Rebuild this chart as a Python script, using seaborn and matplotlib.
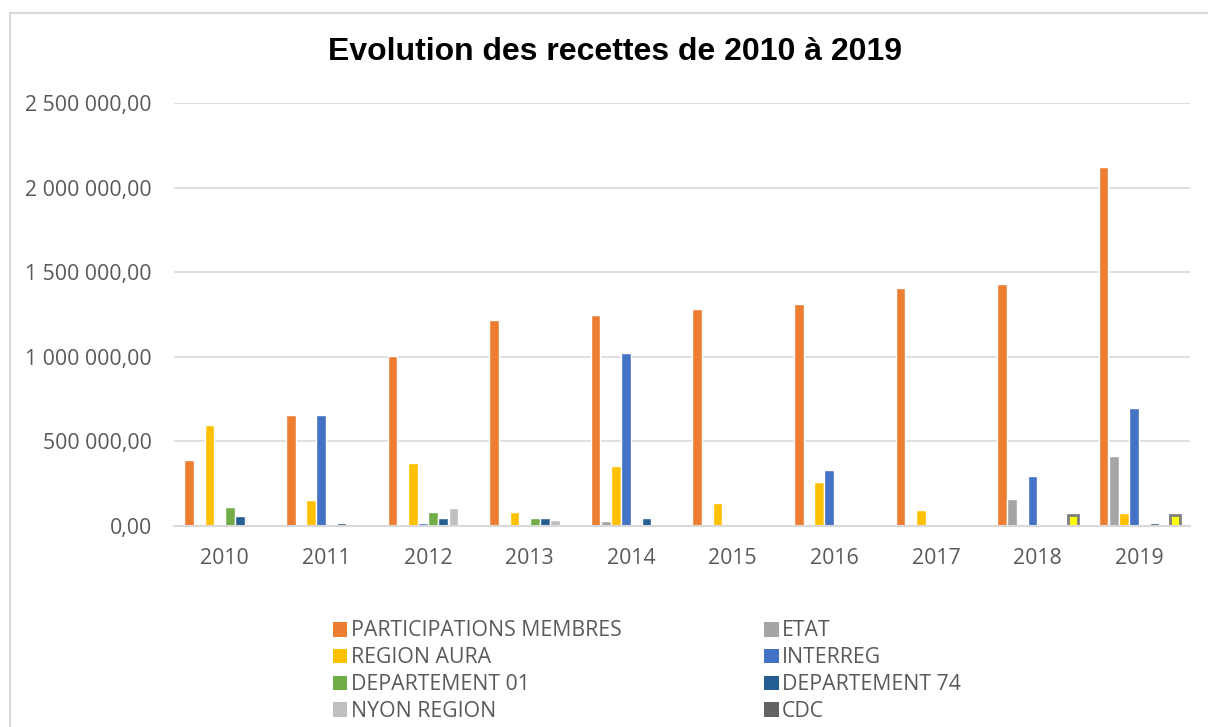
import pandas as pd
import matplotlib.pyplot as plt
import seaborn as sns
from matplotlib.patches import Patch
from matplotlib.lines import Line2D
from matplotlib.ticker import FuncFormatter

years = ["2010", "2011", "2012", "2013", "2014", "2015", "2016", "2017", "2018", "2019"]
series = ["PARTICIPATIONS MEMBRES", "ETAT", "REGION AURA", "INTERREG",
          "DEPARTEMENT 01", "DEPARTEMENT 74", "NYON REGION", "CDC"]

participations = [388000, 656000, 1005000, 1220000, 1248000, 1280000, 1310000, 1405000, 1432000, 2122000]
etat = [0, 0, 12000, 0, 28000, 0, 0, 0, 160000, 412000]
region_aura = [594000, 152000, 375000, 85000, 352000, 138000, 258000, 92000, 12000, 78000]
interreg = [0, 656000, 18000, 0, 1020000, 0, 333000, 0, 298000, 700000]
dep01 = [110000, 0, 85000, 45000, 0, 0, 0, 0, 0, 0]
dep74 = [59000, 20000, 45000, 45000, 45000, 0, 0, 0, 0, 18000]
nyon = [0, 0, 108000, 38000, 0, 0, 0, 0, 0, 0]
cdc = [0, 0, 0, 0, 0, 0, 0, 0, 65000, 65000]

colors = ["#ED7D31", "#A5A5A5", "#FFC000", "#4472C4", "#70AD47", "#255E91", "#BFBFBF", "#636363"]

values = [participations, etat, region_aura, interreg, dep01, dep74, nyon, cdc]
rows = []
for name, vals in zip(series, values):
    for y, v in zip(years, vals):
        rows.append({"annee": y, "serie": name, "montant": v})
df = pd.DataFrame(rows)

sns.set_style("white")
plt.rcParams["font.family"] = ["Open Sans", "DejaVu Sans"]

fig = plt.figure(figsize=(12.08, 7.27), dpi=100)
ax = fig.add_axes([174 / 1208, 1 - 526 / 727, (1190 - 174) / 1208, (526 - 103) / 727])

bar_colors = colors[:-1] + ["#FFFF00"]
sns.barplot(data=df, x="annee", y="montant", hue="serie", hue_order=series,
            palette=bar_colors, width=0.8, gap=0.05, ax=ax, legend=False,
            saturation=1, errorbar=None)

# CDC bars: yellow fill with grey outline
for patch in ax.containers[-1]:
    if patch.get_height() > 0:
        patch.set_edgecolor("#7F7F7F")
        patch.set_linewidth(2)

ax.set_ylim(0, 2500000)
ax.set_xlim(-0.5, 9.5)
ax.set_yticks([0, 500000, 1000000, 1500000, 2000000, 2500000])
ax.yaxis.set_major_formatter(FuncFormatter(
    lambda v, p: f"{v:,.2f}".replace(",", " ").replace(".", ",")))
ax.grid(axis="y", color="#D9D9D9", linewidth=1.2)
ax.set_axisbelow(True)
for s in ["top", "right", "left"]:
    ax.spines[s].set_visible(False)
ax.spines["bottom"].set_color("#D9D9D9")
ax.spines["bottom"].set_linewidth(1.5)
ax.tick_params(axis="both", length=0, labelsize=15.3, colors="#595959")
ax.tick_params(axis="y", pad=16)
ax.tick_params(axis="x", pad=16)
ax.set_xlabel("")
ax.set_ylabel("")

fig.text(615 / 1208, 1 - 52 / 727, "Evolution des recettes de 2010 à 2019",
         ha="center", va="center", fontsize=23, fontweight="bold",
         family=["Liberation Sans", "DejaVu Sans"], color="black")

handles = [Patch(facecolor=c, edgecolor="none") for c in colors]
order = [0, 2, 4, 6, 1, 3, 5, 7]
leg = fig.legend([handles[i] for i in order], [series[i] for i in order],
                 ncol=2, loc="upper left", bbox_to_anchor=(324 / 1208, 1 - 612 / 727),
                 frameon=False, fontsize=15.3, handlelength=0.7, handleheight=0.7,
                 handletextpad=0.15, columnspacing=6.7, labelspacing=0.28,
                 borderaxespad=0)
for t in leg.get_texts():
    t.set_color("#595959")

# outer chart frame (top and left edges visible)
fig.add_artist(Line2D([10 / 1208, 1], [1 - 13 / 727, 1 - 13 / 727],
                      transform=fig.transFigure, color="#D9D9D9", linewidth=1.5))
fig.add_artist(Line2D([10 / 1208, 10 / 1208], [0, 1 - 13 / 727],
                      transform=fig.transFigure, color="#D9D9D9", linewidth=1.5))

fig.savefig("out.png", dpi=100)
